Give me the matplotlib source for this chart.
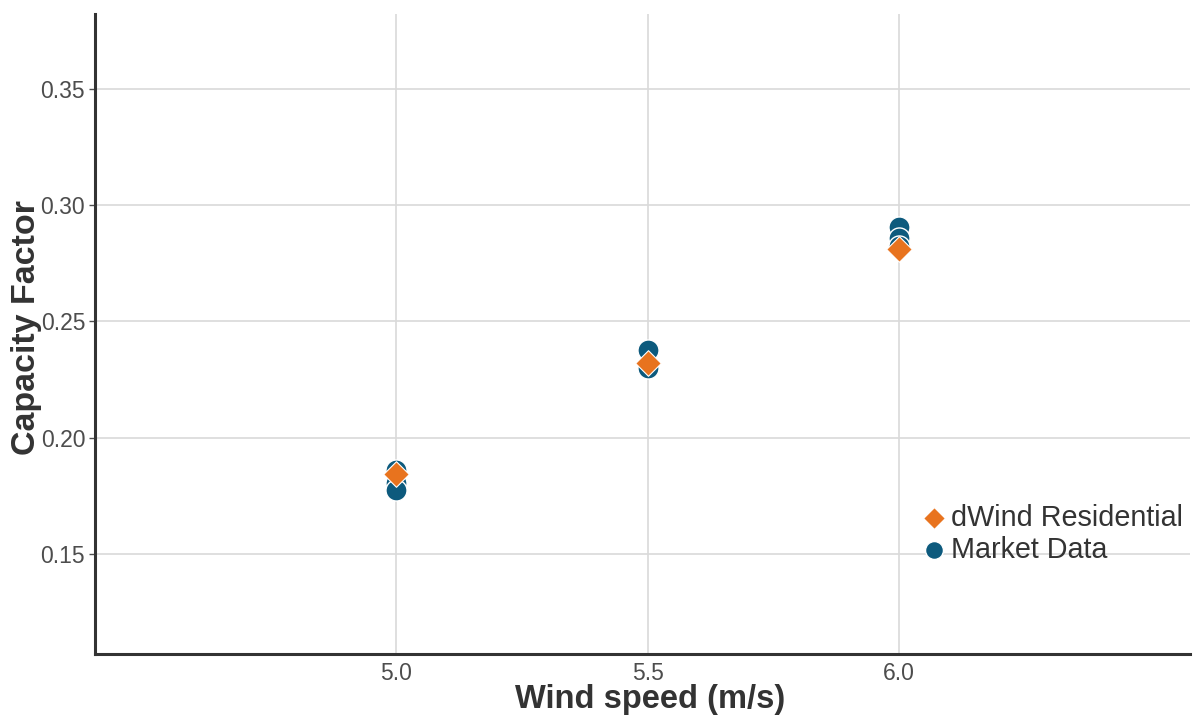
import matplotlib
matplotlib.use('Agg')
import matplotlib.pyplot as plt

plt.rcParams['font.family'] = ['Liberation Sans', 'DejaVu Sans']

# market data points (wind speed, capacity factor)
market_speed = [5.0, 5.0, 5.0, 5.5, 5.5, 6.0, 6.0, 6.0]
market_cf = [0.186, 0.1805, 0.1775, 0.2375, 0.2297, 0.2905, 0.2857, 0.2825]

# dWind residential modelled points
dwind_speed = [5.0, 5.5, 6.0]
dwind_cf = [0.1843, 0.2322, 0.2812]

x_ticks = [5.0, 5.5, 6.0]
y_ticks = [0.15, 0.20, 0.25, 0.30, 0.35]

blue = '#0D5A7D'
orange = '#E8731E'

fig = plt.figure(figsize=(11.93, 7.15), dpi=100)
ax = fig.add_axes([0.0796, 0.0853, 0.918, 0.895])

ax.scatter(market_speed, market_cf, s=230, color=blue, edgecolors='white',
           linewidths=1.0, zorder=3, label='Market Data')
ax.scatter(dwind_speed, dwind_cf, s=170, marker='D', color=orange,
           edgecolors='white', linewidths=0.8, zorder=4, label='dWind Residential')

ax.set_xlim(4.4, 6.58)
ax.set_ylim(0.107, 0.382)
ax.set_xticks(x_ticks)
ax.set_xticklabels([f'{v:.1f}' for v in x_ticks])
ax.set_yticks(y_ticks)
ax.set_yticklabels([f'{v:.2f}' for v in y_ticks])

ax.grid(True, color='#D9D9D9', linewidth=1.2)
ax.set_axisbelow(True)
for side in ['top', 'right']:
    ax.spines[side].set_visible(False)
for side in ['left', 'bottom']:
    ax.spines[side].set_color('#333333')
    ax.spines[side].set_linewidth(2.2)

ax.tick_params(axis='both', labelsize=16.5, colors='#4D4D4D', length=4, width=1)
ax.tick_params(axis='x', length=0, pad=6)
ax.tick_params(axis='y', pad=3)

ax.set_xlabel('Wind speed (m/s)', fontsize=23.5, fontweight='bold', color='#333333')
ax.set_ylabel('Capacity Factor', fontsize=24.5, fontweight='bold', color='#333333')
ax.xaxis.set_label_coords(0.507, -0.047)
ax.yaxis.set_label_coords(-0.048, 0.51)

handles, labels = ax.get_legend_handles_labels()
leg = ax.legend(handles[::-1], labels[::-1], loc='upper left',
                bbox_to_anchor=(0.753, 0.235), frameon=False, fontsize=20.7,
                handletextpad=0.1, handlelength=1.0, labelspacing=0.15,
                markerscale=0.85, borderaxespad=0, borderpad=0)
for t in leg.get_texts():
    t.set_color('#333333')

fig.savefig('out.png', dpi=100)
